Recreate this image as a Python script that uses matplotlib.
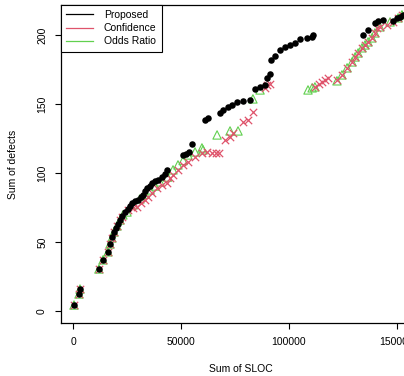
import matplotlib
matplotlib.use('Agg')
import matplotlib.pyplot as plt
from matplotlib.lines import Line2D

plt.rcParams['font.family'] = ['Liberation Sans', 'DejaVu Sans']

# cumulative SLOC / defects
proposed_sloc = [460, 2780, 3240, 12000, 13900, 16200, 17100, 18060, 19000, 19900,
                 20800, 21800, 22700, 24100, 25500, 26400, 27300, 28700, 30100, 31500,
                 32400, 33300, 34300, 35700, 36600, 38000, 39400, 41200, 42600, 43500,
                 50900, 52300, 53700, 55100, 61100, 62500, 68100, 69500, 71800, 73600,
                 75900, 78700, 82000, 84300, 86600, 88900, 89800, 91200, 91700, 93500,
                 95800, 98200, 100500, 102800, 105100, 108300, 110700, 111100,
                 134300, 136600, 139800, 141200, 143500, 148200, 150000, 151400, 152800]
proposed_def = [4.3, 12.3, 15.9, 30.4, 37.0, 42.8, 48.5, 53.6, 57.2, 60.1,
                63.0, 65.9, 68.8, 71.7, 73.9, 76.1, 78.3, 79.7, 80.4, 82.6,
                84.1, 86.9, 89.1, 90.6, 92.7, 94.2, 94.9, 97.1, 99.3, 102.2,
                113.0, 113.8, 115.2, 121.0, 138.4, 139.8, 143.5, 145.6, 147.8, 149.3,
                151.4, 152.2, 152.9, 160.9, 162.3, 163.8, 168.8, 171.7, 181.9, 184.8,
                189.1, 191.3, 192.7, 194.2, 197.1, 197.8, 198.5, 200.0,
                200.0, 203.6, 208.7, 210.1, 210.9, 210.1, 212.3, 213.0, 214.5]

confidence_sloc = [460, 2780, 3240, 12000, 13900, 16200, 17100, 18000, 19000, 20400,
                   21800, 22700, 25500, 27800, 29600, 31500, 33300, 34700, 36600, 38900,
                   41200, 43500, 44900, 46300, 48600, 50900, 53200, 56500, 59700, 62000,
                   64400, 66200, 67600, 70400, 72700, 74100, 78700, 81000, 83300, 88900,
                   89800, 91200,
                   112000, 114000, 115300, 116700, 118100, 122200, 124500, 126900, 129200, 130600,
                   132000, 133800, 135200, 136600, 138400, 139800, 140700, 142100, 145400, 148200,
                   150500, 152300]
confidence_def = [4.3, 12.3, 15.9, 30.4, 37.0, 42.8, 48.5, 52.9, 57.2, 61.6,
                  65.9, 68.1, 73.2, 74.6, 75.4, 78.3, 80.4, 82.6, 85.5, 89.1,
                  91.3, 92.7, 96.4, 98.5, 102.2, 105.8, 108.0, 111.6, 114.5, 115.2,
                  114.5, 114.5, 114.5, 123.9, 126.1, 129.0, 137.0, 138.4, 144.2, 161.6,
                  163.8, 164.5,
                  162.3, 164.5, 165.9, 167.4, 168.8, 167.0, 171.0, 176.1, 180.4, 184.0,
                  186.9, 190.6, 192.7, 194.9, 197.8, 201.4, 205.1, 205.8, 207.2, 209.4,
                  212.3, 214.5]

odds_sloc = [460, 2780, 3240, 12000, 13900, 16200, 17100, 18000, 19000, 20400,
             21800, 23100, 25000, 28000, 31000, 33500, 35700, 38000, 40300, 43800,
             46300, 48600, 51000, 53200, 56500, 59700, 60200, 66700, 72700, 76400,
             83300, 86600,
             108800, 110700, 112000, 122200, 124500, 126900, 129200, 130600, 132000, 133800,
             135200, 136600, 138400, 139800, 142100, 146800, 150500, 152300]
odds_def = [4.3, 12.3, 15.9, 30.4, 37.0, 42.8, 48.5, 52.9, 57.2, 61.6,
            65.9, 69.6, 71.7, 77.0, 81.2, 84.5, 87.7, 90.5, 93.5, 97.0,
            102.2, 105.8, 109.0, 113.0, 115.2, 118.1, 116.7, 127.5, 130.4, 130.4,
            153.6, 160.1,
            160.1, 161.6, 162.3, 166.7, 171.0, 176.1, 180.4, 184.0, 186.9, 190.6,
            192.7, 194.9, 197.8, 201.4, 205.8, 209.4, 212.3, 214.5]

black = '#000000'
red = '#DF536B'
green = '#61D04F'

fig = plt.figure(figsize=(4.04, 3.76), dpi=100)
ax = fig.add_axes([0.151, 0.141, 0.891, 0.846])

ax.scatter(odds_sloc, odds_def, marker='^', facecolors='none', edgecolors=green,
           s=36, linewidths=0.8, zorder=2)
ax.scatter(confidence_sloc, confidence_def, marker='x', color=red, s=28,
           linewidths=0.9, zorder=3)
ax.scatter(proposed_sloc, proposed_def, marker='o', color=black, s=22,
           linewidths=0, zorder=4)

ax.set_xlim(-5556, 161100)
ax.set_ylim(-8.7, 221.7)
ax.set_xticks([0, 50000, 100000, 150000])
ax.set_xticklabels(['0', '50000', '100000', '150000'])
ax.set_yticks([0, 50, 100, 150, 200])
ax.tick_params(axis='both', direction='out', length=4, width=0.8, labelsize=7.5, pad=6)
for lab in ax.get_yticklabels():
    lab.set_rotation(90)
    lab.set_va('center')
for sp in ax.spines.values():
    sp.set_linewidth(0.9)

ax.set_xlabel('Sum of SLOC', fontsize=7.5, labelpad=12)
ax.set_ylabel('Sum of defects', fontsize=7.5, labelpad=14)

handles = [Line2D([], [], color=black, lw=0.9),
           Line2D([], [], color=red, lw=0.9),
           Line2D([], [], color=green, lw=0.9)]
leg = ax.legend(handles, ['Proposed', 'Confidence', 'Odds Ratio'], loc='upper left',
                borderaxespad=0, fancybox=False, edgecolor='black', fontsize=7.5,
                handlelength=2.6, labelspacing=0.3, borderpad=0.5, handletextpad=1.0,
                framealpha=1)
leg.get_frame().set_linewidth(0.8)

fig.savefig('out.png', dpi=100)
